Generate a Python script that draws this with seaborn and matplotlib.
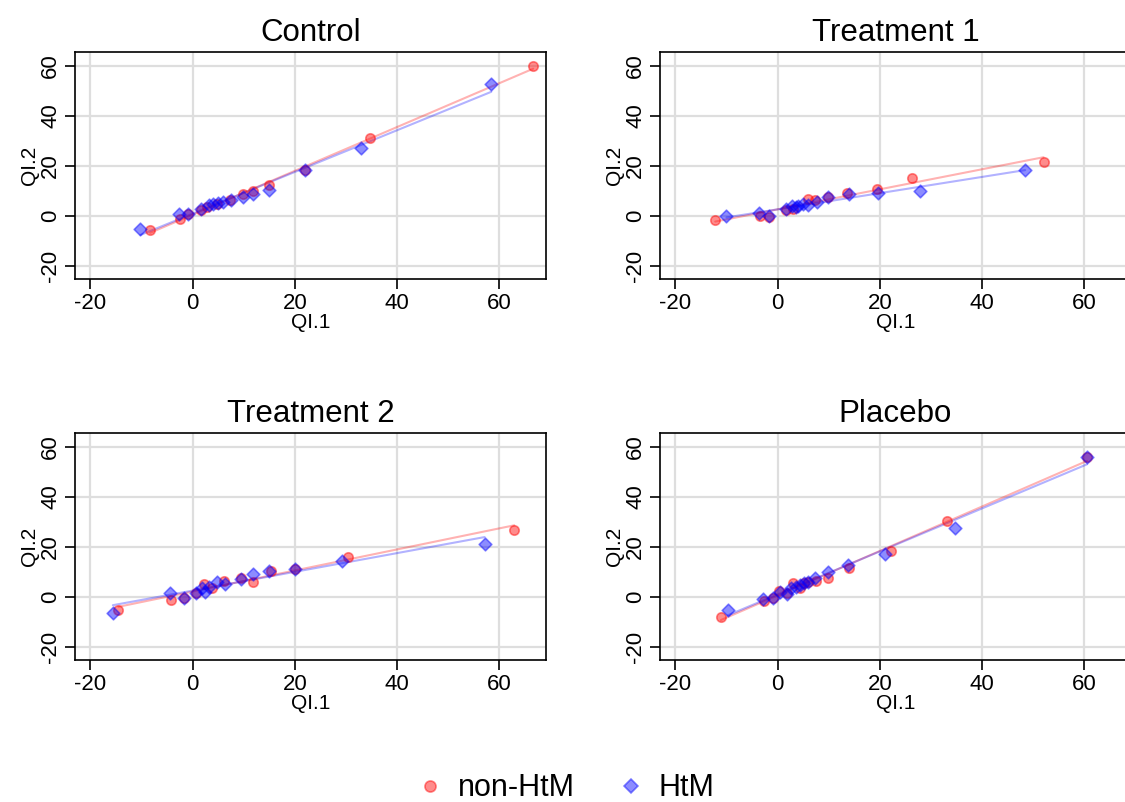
import numpy as np
import pandas as pd
import matplotlib
matplotlib.use("Agg")
import matplotlib.pyplot as plt
import seaborn as sns
from matplotlib.lines import Line2D

sns.set_theme(style="white")
plt.rcParams['font.family'] = ['Liberation Sans', 'DejaVu Sans']
plt.rcParams['axes.unicode_minus'] = False

panels = ["Control", "Treatment 1", "Treatment 2", "Placebo"]
groups = ["non-HtM", "HtM"]

# Control
ctrl_non_x = [-8.3, -2.5, -0.9, 1.7, 2.9, 4.8, 7.4, 9.8, 11.8, 14.9, 21.9, 34.7, 66.6]
ctrl_non_y = [-5.6, -1.2, 0.5, 2.4, 3.5, 4.5, 6.1, 8.8, 9.7, 12.1, 18.1, 31.0, 60.0]
ctrl_htm_x = [-10.2, -2.7, -0.9, 1.7, 3.2, 4.0, 4.9, 6.0, 7.5, 9.8, 11.8, 14.9, 21.9, 32.9, 58.4]
ctrl_htm_y = [-5.2, 0.5, 0.5, 2.5, 4.1, 4.8, 5.2, 5.6, 6.4, 7.5, 8.5, 10.4, 18.1, 27.0, 52.6]

# Treatment 1
t1_non_x = [-12.2, -3.4, -1.7, 1.6, 3.0, 5.9, 7.3, 9.9, 13.6, 19.5, 26.2, 52.0]
t1_non_y = [-1.8, -0.3, -0.5, 2.4, 2.8, 6.7, 6.1, 7.5, 9.1, 10.7, 15.1, 21.5]
t1_htm_x = [-10.0, -3.6, -1.7, 1.6, 2.9, 3.5, 4.0, 5.0, 6.0, 7.7, 9.9, 14.0, 19.6, 27.8, 48.4]
t1_htm_y = [-0.3, 1.2, -0.3, 2.5, 3.9, 3.5, 3.9, 4.5, 4.3, 5.4, 7.5, 8.8, 9.1, 9.7, 18.3]

# Treatment 2
t2_non_x = [-14.5, -4.3, -1.7, 0.6, 2.2, 3.8, 6.1, 9.5, 11.8, 15.4, 20.0, 30.3, 62.9]
t2_non_y = [-5.3, -1.5, -0.4, 1.6, 5.0, 3.6, 6.3, 7.5, 6.0, 10.3, 11.2, 15.7, 26.8]
t2_htm_x = [-15.6, -4.5, -1.7, 0.6, 1.9, 2.5, 3.2, 4.8, 6.3, 9.5, 11.9, 15.0, 20.0, 29.2, 57.1]
t2_htm_y = [-6.4, 1.6, -0.4, 1.6, 3.4, 2.0, 4.0, 5.8, 5.0, 7.0, 9.2, 10.3, 11.2, 14.1, 20.9]

# Placebo
pl_non_x = [-11.1, -2.7, -1.0, 0.3, 1.9, 3.0, 4.4, 5.2, 6.0, 7.6, 9.8, 14.0, 22.1, 33.1, 60.5]
pl_non_y = [-8.0, -1.7, -0.4, 2.3, 1.6, 5.6, 3.6, 5.4, 5.9, 6.3, 7.5, 11.6, 18.4, 30.1, 55.8]
pl_htm_x = [-9.8, -2.8, -1.0, 0.5, 1.9, 2.7, 3.5, 4.4, 5.2, 6.0, 7.3, 9.8, 13.7, 21.0, 34.6, 60.5]
pl_htm_y = [-5.2, -1.0, -0.4, 2.0, 1.2, 3.4, 4.0, 4.7, 5.4, 5.9, 7.6, 9.8, 12.7, 17.0, 27.5, 55.8]

data = {
    "Control": [(ctrl_non_x, ctrl_non_y), (ctrl_htm_x, ctrl_htm_y)],
    "Treatment 1": [(t1_non_x, t1_non_y), (t1_htm_x, t1_htm_y)],
    "Treatment 2": [(t2_non_x, t2_non_y), (t2_htm_x, t2_htm_y)],
    "Placebo": [(pl_non_x, pl_non_y), (pl_htm_x, pl_htm_y)],
}

rows = []
for p in panels:
    for g, (xs, ys) in zip(groups, data[p]):
        for xv, yv in zip(xs, ys):
            rows.append({"panel": p, "group": g, "QI.1": xv, "QI.2": yv})
df = pd.DataFrame(rows)

colors = {"non-HtM": "#ff0000", "HtM": "#0000ff"}
markers = {"non-HtM": "o", "HtM": "D"}
msizes = {"non-HtM": 46, "HtM": 42}

fig = plt.figure(figsize=(11.25, 8.02), dpi=100)
W, H = 1125, 802
pos = {
    "Control": (75, 51.7),
    "Treatment 1": (660, 51.7),
    "Treatment 2": (75, 432.7),
    "Placebo": (660, 432.7),
}
aw, ah = 471, 227.5

for p in panels:
    l, t = pos[p]
    ax = fig.add_axes([l / W, 1 - (t + ah) / H, aw / W, ah / H])
    sub = df[df.panel == p]
    for g in groups:
        sg = sub[sub.group == g]
        sns.regplot(data=sg, x="QI.1", y="QI.2", ax=ax, scatter=False, ci=None,
                    truncate=True, line_kws=dict(color=colors[g], alpha=0.3, lw=1.5))
    for g in groups:
        sg = sub[sub.group == g]
        sns.scatterplot(data=sg, x="QI.1", y="QI.2", ax=ax, color=colors[g],
                        marker=markers[g], s=msizes[g], alpha=0.45,
                        edgecolor=colors[g], linewidth=1.2, legend=False, zorder=3)
    ax.set_xlim(-23, 69.1)
    ax.set_ylim(-25.4, 65.6)
    ax.set_xticks([-20, 0, 20, 40, 60])
    ax.set_yticks([-20, 0, 20, 40, 60])
    ax.grid(True, color="#dedede", lw=1.6)
    ax.set_axisbelow(True)
    for s in ax.spines.values():
        s.set_color("black")
        s.set_linewidth(1.2)
    ax.tick_params(axis="both", direction="out", length=7, width=1.2, color="black",
                   labelsize=16, labelcolor="black", bottom=True, left=True, pad=3)
    plt.setp(ax.get_yticklabels(), rotation=90, va="center")
    ax.set_title(p, fontsize=22.5, color="black", pad=8)
    ax.set_xlabel("QI.1", fontsize=15, color="black", labelpad=-1)
    ax.set_ylabel("QI.2", fontsize=15, color="black", labelpad=1)

handles = [
    Line2D([], [], linestyle="none", marker="o", markersize=8, color="#ff0000",
           alpha=0.45, markeredgewidth=1.2),
    Line2D([], [], linestyle="none", marker="D", markersize=7, color="#0000ff",
           alpha=0.45, markeredgewidth=1.2),
]
leg = fig.legend(handles, groups, loc="center", bbox_to_anchor=(0.502, 0.017), ncol=2,
                 frameon=False, fontsize=22, handlelength=1.0, handletextpad=0.4,
                 columnspacing=1.35, borderpad=0.1)
for t in leg.get_texts():
    t.set_color("black")

fig.savefig("out.png", dpi=100)
